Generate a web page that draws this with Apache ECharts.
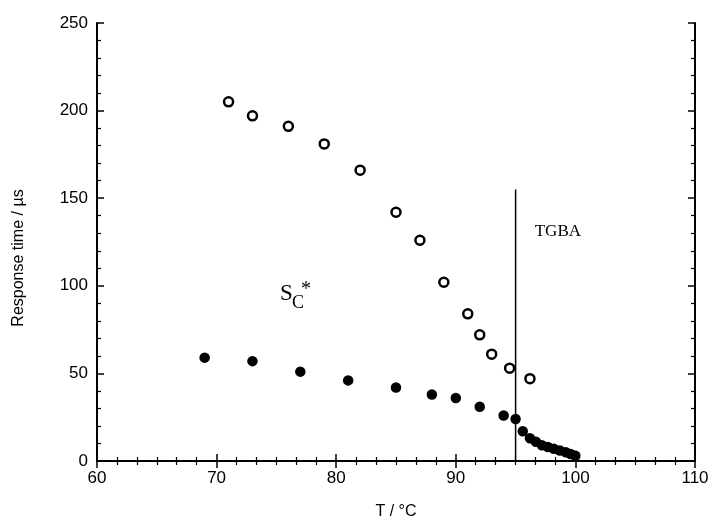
<!DOCTYPE html>
<html>
<head>
<meta charset="utf-8">
<script src="https://cdn.jsdelivr.net/npm/echarts@6/dist/echarts.min.js"></script>
<style>html,body{margin:0;padding:0;background:#fff;}#c{width:721px;height:525px;}</style>
</head>
<body>
<div id="c"></div>
<script>
// Open circles (upper branch)
const openT = [71, 73, 76, 79, 82, 85, 87, 89, 91, 92, 93, 94.5, 96.2];
const openR = [205, 197, 191, 181, 166, 142, 126, 102, 84, 72, 61, 53, 47];
// Filled circles (lower branch)
const filledT = [69, 73, 77, 81, 85, 88, 90, 92, 94, 95, 95.6, 96.2, 96.7, 97.2, 97.7, 98.2, 98.7, 99.2, 99.6, 100];
const filledR = [59, 57, 51, 46, 42, 38, 36, 31, 26, 24, 17, 13, 11, 9, 8, 7, 6, 5, 4, 3];
// Phase boundary line
const boundaryT = 95;
const boundaryTop = 155;
// Axis ticks
const xTicks = [60, 70, 80, 90, 100, 110];
const yTicks = [0, 50, 100, 150, 200, 250];
// Annotations
const labelTGBA = {text: 'TGBA', T: 96.6, R: 131};
const labelSC = {T: 75.3, R: 89};

const chart = echarts.init(document.getElementById('c'), null, {renderer: 'canvas'});
const axisCommon = {
  axisLine: {lineStyle: {color: '#000', width: 2}},
  axisTick: {inside: true, length: 7, lineStyle: {color: '#000', width: 1.5}},
  minorTick: {show: true, length: 4, lineStyle: {color: '#000', width: 1.2}},
  splitLine: {show: false}
};
chart.setOption({
  animation: false,
  backgroundColor: '#fff',
  grid: {left: 97, right: 26, top: 23, bottom: 58, show: false},
  xAxis: [
    Object.assign({}, axisCommon, {
      type: 'value', position: 'bottom', min: xTicks[0], max: xTicks[xTicks.length - 1], interval: 10,
      minorTick: Object.assign({}, axisCommon.minorTick, {splitNumber: 6}),
      axisLabel: {color: '#000', fontFamily: 'Liberation Sans', fontSize: 17, margin: 9},
      name: 'T / °C', nameLocation: 'middle', nameGap: 43,
      nameTextStyle: {color: '#000', fontFamily: 'Liberation Sans', fontSize: 16}
    }),
    Object.assign({}, axisCommon, {
      type: 'value', position: 'top', min: xTicks[0], max: xTicks[xTicks.length - 1], interval: 10,
      minorTick: Object.assign({}, axisCommon.minorTick, {splitNumber: 6}),
      axisLabel: {show: false}
    })
  ],
  yAxis: [
    Object.assign({}, axisCommon, {
      type: 'value', position: 'left', min: yTicks[0], max: yTicks[yTicks.length - 1], interval: 50,
      minorTick: Object.assign({}, axisCommon.minorTick, {splitNumber: 5}),
      axisLabel: {color: '#000', fontFamily: 'Liberation Sans', fontSize: 17, margin: 9},
      name: 'Response time / µs', nameLocation: 'middle', nameGap: 70, nameRotate: 90,
      nameTextStyle: {color: '#000', fontFamily: 'Liberation Sans', fontSize: 16, padding: [0, 32, 0, 0]}
    }),
    Object.assign({}, axisCommon, {
      type: 'value', position: 'right', min: yTicks[0], max: yTicks[yTicks.length - 1], interval: 50,
      minorTick: Object.assign({}, axisCommon.minorTick, {splitNumber: 5}),
      axisLabel: {show: false}
    })
  ],
  series: [
    {
      type: 'line', xAxisIndex: 0, yAxisIndex: 0, symbol: 'none',
      lineStyle: {color: '#000', width: 1.5},
      data: [[boundaryT, 0], [boundaryT, boundaryTop]], z: 1
    },
    {
      type: 'scatter', xAxisIndex: 0, yAxisIndex: 0, symbol: 'circle', symbolSize: 9,
      itemStyle: {color: '#fff', borderColor: '#000', borderWidth: 2.5, opacity: 1},
      data: openT.map((t, i) => [t, openR[i]]), z: 3
    },
    {
      type: 'scatter', xAxisIndex: 0, yAxisIndex: 0, symbol: 'circle', symbolSize: 10.5,
      itemStyle: {color: '#000', opacity: 1},
      data: filledT.map((t, i) => [t, filledR[i]]), z: 3
    }
  ]
});
const pT = chart.convertToPixel({xAxisIndex: 0, yAxisIndex: 0}, [labelTGBA.T, labelTGBA.R]);
const pS = chart.convertToPixel({xAxisIndex: 0, yAxisIndex: 0}, [labelSC.T, labelSC.R]);
chart.setOption({
  graphic: [
    {type: 'text', x: pT[0], y: pT[1], style: {text: labelTGBA.text, fill: '#000', font: '17px "Liberation Serif"', textVerticalAlign: 'middle'}},
    {type: 'text', x: pS[0], y: pS[1], style: {text: 'S', fill: '#000', font: '23px "Liberation Serif"', textVerticalAlign: 'bottom'}},
    {type: 'text', x: pS[0] + 12, y: pS[1] + 7, style: {text: 'C', fill: '#000', font: '18px "Liberation Serif"', textVerticalAlign: 'bottom'}},
    {type: 'text', x: pS[0] + 21, y: pS[1] - 5, style: {text: '*', fill: '#000', font: '20px "Liberation Serif"', textVerticalAlign: 'bottom'}}
  ]
});
</script>
</body>
</html>
